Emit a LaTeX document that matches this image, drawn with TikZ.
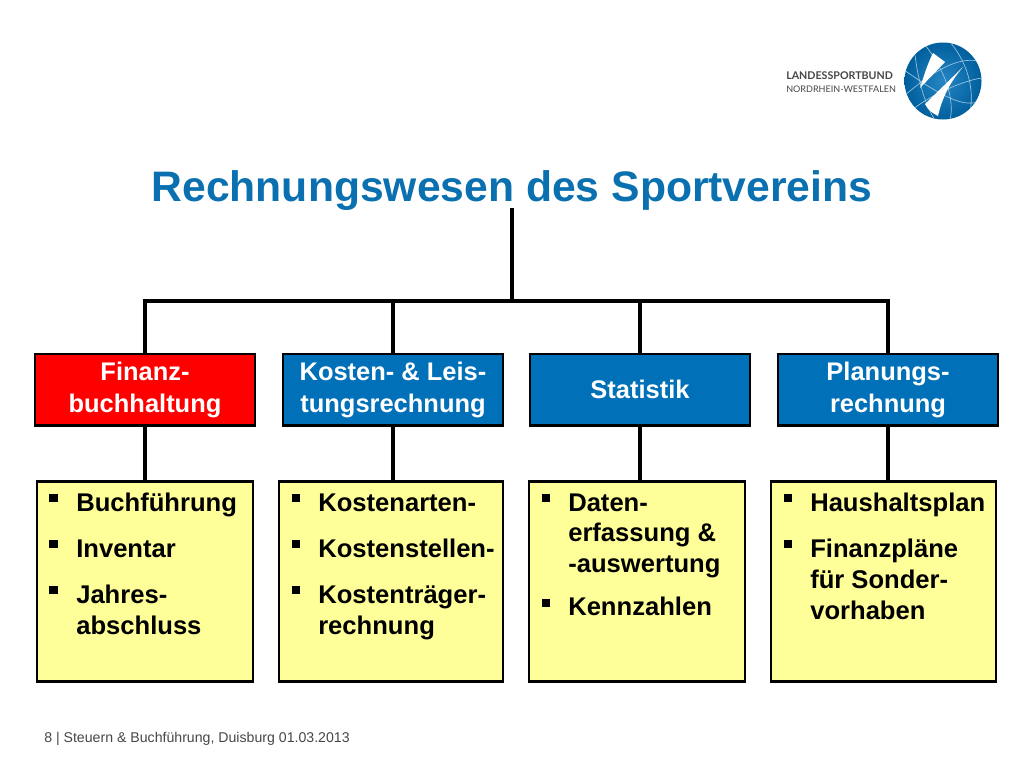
\documentclass[tikz,border=0pt]{standalone}
\usepackage{fontspec}
\setmainfont{Liberation Sans}
\newfontfamily\logofont{Lato}
\usetikzlibrary{positioning,calc}
\definecolor{lsbblue}{RGB}{0,112,184}
\definecolor{titleblue}{RGB}{10,112,176}
\definecolor{boxyellow}{RGB}{255,255,153}
\definecolor{footgrey}{RGB}{70,70,70}
\tikzset{
  head/.style={draw=black, line width=2pt, fill=lsbblue, text=white, font=\fontsize{19.1}{24}\selectfont\bfseries,
    align=center, minimum width=165pt, minimum height=53.5pt, inner sep=0pt},
  itembox/.style={draw=black, line width=1.6pt, fill=boxyellow, inner sep=0pt},
  conn/.style={line width=3pt, black},
  txt/.style={anchor=base west, inner sep=0pt, font=\fontsize{19.2}{24}\selectfont\bfseries},
  sq/.style={fill=black, minimum size=6.6pt, inner sep=0pt}
}
\begin{document}
\begin{tikzpicture}[x=0.75pt,y=-0.75pt]
  \useasboundingbox (0,0) rectangle (1024,768);

  % title
  \node[anchor=base, inner sep=0pt, outer sep=0pt, text depth=5pt, text=titleblue, font=\fontsize{32}{36}\selectfont\bfseries]
    (title) at (512,201) {Rechnungswesen des Sportvereins};
  \coordinate (bus) at (512,301);

  % headers
  \node[head, fill=red] (fin) at (145,389.5) {\raisebox{-2pt}{Finanz-}\\\raisebox{-2pt}{buchhaltung}};
  \node[head] (kost) at (393,389.5) {\raisebox{-2pt}{Kosten- \& Leis-}\\\raisebox{-2pt}{tungsrechnung}};
  \node[head] (stat) at (640,389.5) {Statistik};
  \node[head] (plan) at (888,389.5) {\raisebox{-2pt}{Planungs-}\\\raisebox{-2pt}{rechnung}};

  % yellow boxes
  \node[itembox, minimum width=162.5pt, minimum height=150pt] (finbox) at (145,581.5) {};
  \node[itembox, minimum width=168pt, minimum height=150pt] (kostbox) at (391,581.5) {};
  \node[itembox, minimum width=162.5pt, minimum height=150pt] (statbox) at (637,581.5) {};
  \node[itembox, minimum width=169pt, minimum height=150pt] (planbox) at (883.5,581.5) {};

  % connectors
  \draw[conn] (title.south) -- (bus);
  \draw[conn, line cap=rect] (fin.north |- bus) -- (plan.north |- bus);
  \draw[conn] (fin.north) -- (fin.north |- bus);
  \draw[conn] (kost.north) -- (kost.north |- bus);
  \draw[conn] (stat.north) -- (stat.north |- bus);
  \draw[conn] (plan.north) -- (plan.north |- bus);
  \draw[conn] (fin.south) -- (fin.south |- finbox.north);
  \draw[conn] (kost.south) -- (kost.south |- kostbox.north);
  \draw[conn] (stat.south) -- (stat.south |- statbox.north);
  \draw[conn] (plan.south) -- (plan.south |- planbox.north);

  % box 1
  \node[sq] (b11) at (53.5,498) {};
  \node[txt] (t11) at (76,511) {Buchführung};
  \node[sq] (b12) at (53.5,544) {};
  \node[txt] (t12) at (76,557) {Inventar};
  \node[sq] (b13) at (53.5,590) {};
  \node[txt] (t13) at (76,603) {Jahres-};
  \node[txt] (t14) at (76,634) {abschluss};

  % box 2
  \node[sq] (b21) at (296,498) {};
  \node[txt] (t21) at (318,511) {Kostenarten-};
  \node[sq] (b22) at (296,544) {};
  \node[txt] (t22) at (318,557) {Kostenstellen-};
  \node[sq] (b23) at (296,590) {};
  \node[txt] (t23) at (318,603) {Kostenträger-};
  \node[txt] (t24) at (318,634) {rechnung};

  % box 3
  \node[sq] (b31) at (546,498) {};
  \node[txt] (t31) at (568,511) {Daten-};
  \node[txt] (t32) at (568,541) {erfassung \&};
  \node[txt] (t33) at (568,572) {-auswertung};
  \node[sq] (b32) at (546,603) {};
  \node[txt] (t34) at (568,615) {Kennzahlen};

  % box 4
  \node[sq] (b41) at (788,498) {};
  \node[txt] (t41) at (810,511) {Haushaltsplan};
  \node[sq] (b42) at (788,544) {};
  \node[txt] (t42) at (810,557) {Finanzpläne};
  \node[txt] (t43) at (810,588) {für Sonder-};
  \node[txt] (t44) at (810,619) {vorhaben};

  % footer
  \node[anchor=base west, inner sep=0pt, text=footgrey, font=\fontsize{10.6}{12}\selectfont] (foot) at (44,742)
    {8 | Steuern \& Buchführung, Duisburg 01.03.2013};

  % logo
  \node[anchor=base west, inner sep=0pt, text=footgrey, font=\logofont\bfseries\fontsize{8}{10}\selectfont] (lsb1) at (786,79) {LANDESSPORTBUND};
  \node[anchor=base west, inner sep=0pt, text=footgrey, font=\logofont\fontsize{6.8}{10}\selectfont] (lsb2) at (786,92) {NORDRHEIN-WESTFALEN};
  \begin{scope}
    \clip (943,81) circle (38.5);
    \shade[inner color=lsbblue!85!white, outer color=lsbblue!85!black] (943,81) circle (38.5);
    \draw[white!60!lsbblue, line width=0.5pt]
      (904,70) .. controls (940,95) and (965,110) .. (982,100)
      (905,95) .. controls (935,70) and (960,55) .. (982,62)
      (925,45) .. controls (945,70) and (955,100) .. (950,120)
      (950,42) .. controls (965,60) and (975,85) .. (970,112)
      (912,110) .. controls (930,95) and (965,80) .. (982,78)
      (915,55) .. controls (918,80) and (925,105) .. (935,120);
    \fill[white] (963,67) -- (925,104) .. controls (928,110) and (932,113) .. (938,116) .. controls (942,98) and (950,82) .. (963,67) -- cycle;
    \fill[white] (933,53) -- (945,62) -- (920,88) .. controls (924,75) and (928,63) .. (933,53) -- cycle;
  \end{scope}
\end{tikzpicture}
\end{document}
